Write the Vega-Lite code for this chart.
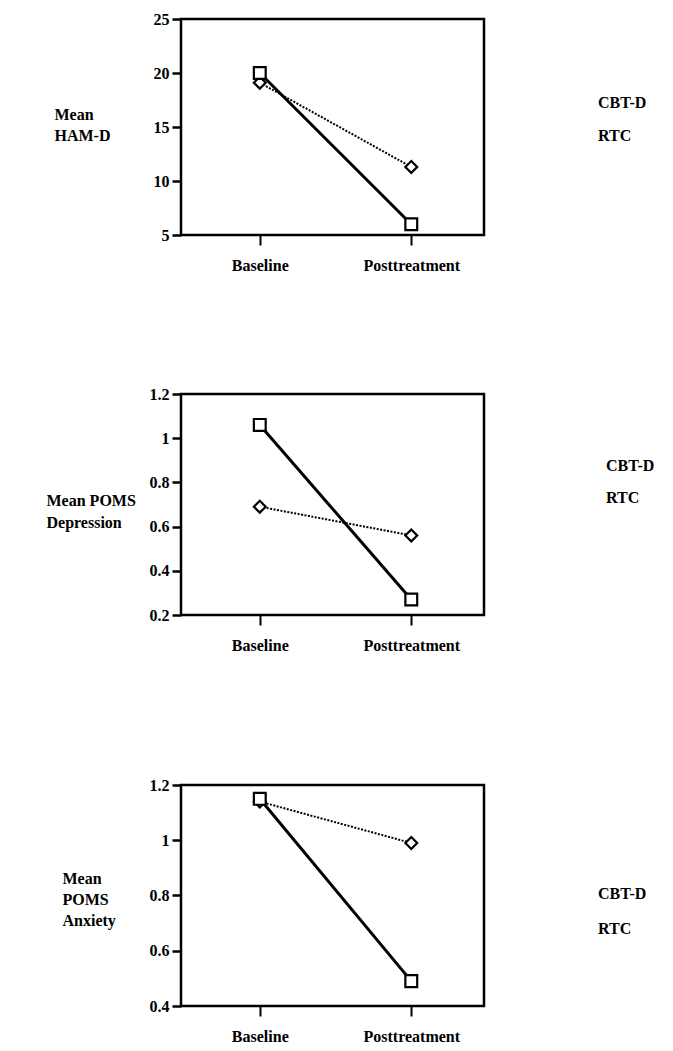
{
  "$schema": "https://vega.github.io/schema/vega-lite/v6.json",
  "background": "white",
  "padding": {"top": 9, "left": 44, "right": 5, "bottom": 5},
  "config": {
    "view": {"stroke": "black", "strokeWidth": 2.5},
    "font": "Liberation Serif",
    "axis": {"domain": false, "grid": false, "tickColor": "black", "labelColor": "black", "labelFont": "Liberation Serif", "labelFontWeight": "bold", "labelFontSize": 16, "titleFont": "Liberation Serif", "titleFontWeight": "bold", "titleFontSize": 16, "titleColor": "black"},
    "legend": {"labelFont": "Liberation Serif", "labelFontWeight": "bold", "labelFontSize": 16, "labelColor": "black", "padding": 0, "symbolStrokeWidth": 2.2, "symbolStrokeColor": "black", "symbolFillColor": "white"}
  },
  "datasets": {
    "hamd": [
      {"series": "RTC", "time": "Baseline", "value": 19.1},
      {"series": "RTC", "time": "Posttreatment", "value": 11.3},
      {"series": "CBT-D", "time": "Baseline", "value": 20.0},
      {"series": "CBT-D", "time": "Posttreatment", "value": 6.0}
    ],
    "pomsd": [
      {"series": "RTC", "time": "Baseline", "value": 0.69},
      {"series": "RTC", "time": "Posttreatment", "value": 0.56},
      {"series": "CBT-D", "time": "Baseline", "value": 1.06},
      {"series": "CBT-D", "time": "Posttreatment", "value": 0.27}
    ],
    "pomsa": [
      {"series": "RTC", "time": "Baseline", "value": 1.14},
      {"series": "RTC", "time": "Posttreatment", "value": 0.99},
      {"series": "CBT-D", "time": "Baseline", "value": 1.15},
      {"series": "CBT-D", "time": "Posttreatment", "value": 0.49}
    ]
  },
  "resolve": {"scale": {"x": "independent", "y": "independent", "shape": "independent"}, "legend": {"shape": "independent"}},
  "spacing": 109,
  "vconcat": [
    {
      "width": 303, "height": 216,
      "data": {"name": "hamd"},
      "encoding": {
        "x": {"field": "time", "type": "nominal", "sort": ["Baseline", "Posttreatment"], "scale": {"type": "point", "padding": 0.5, "align": 0.52}, "axis": {"title": null, "labelAngle": 0, "tickSize": 10, "tickWidth": 2, "labelPadding": 12}},
        "y": {"field": "value", "type": "quantitative", "scale": {"domain": [5, 25], "nice": false, "zero": false}, "axis": {"values": [5, 10, 15, 20, 25], "tickSize": 9, "tickWidth": 2.5, "labelPadding": 3, "title": ["Mean", "HAM-D"], "titleAngle": 0, "titleAlign": "left", "titleBaseline": "middle", "titleLineHeight": 21, "titleX": -127, "titleY": 95}}
      },
      "layer": [
        {"transform": [{"filter": "datum.series === 'RTC'"}], "mark": {"type": "line", "color": "black", "strokeWidth": 2, "strokeDash": [2, 1.5]}},
        {"transform": [{"filter": "datum.series === 'CBT-D'"}], "mark": {"type": "line", "color": "black", "strokeWidth": 3}},
        {
          "mark": {"type": "point", "filled": true, "fill": "white", "stroke": "black", "strokeWidth": 2.2, "opacity": 1, "size": 140},
          "encoding": {
            "shape": {"field": "series", "type": "nominal", "scale": {"domain": ["CBT-D", "RTC"], "range": ["square", "diamond"]},
              "legend": {"title": null, "orient": "none", "legendX": 351, "legendY": 74, "symbolSize": 306, "labelOffset": 46, "rowPadding": 4.5}}
          }
        }
      ]
    },
    {
      "resolve": {"scale": {"x": "independent", "y": "independent", "shape": "independent"}, "legend": {"shape": "independent"}},
      "bounds": "flush",
      "spacing": 170,
      "vconcat": [
        {
          "width": 303, "height": 221,
          "data": {"name": "pomsd"},
          "encoding": {
            "x": {"field": "time", "type": "nominal", "sort": ["Baseline", "Posttreatment"], "scale": {"type": "point", "padding": 0.5, "align": 0.52}, "axis": {"title": null, "labelAngle": 0, "tickSize": 10, "tickWidth": 2, "labelPadding": 12}},
            "y": {"field": "value", "type": "quantitative", "scale": {"domain": [0.2, 1.2], "nice": false, "zero": false}, "axis": {"values": [0.2, 0.4, 0.6, 0.8, 1, 1.2], "format": "~g", "tickSize": 9, "tickWidth": 2.5, "labelPadding": 3, "title": ["Mean POMS", "Depression"], "titleAngle": 0, "titleAlign": "left", "titleBaseline": "middle", "titleLineHeight": 22, "titleX": -135, "titleY": 106}}
          },
          "layer": [
            {"transform": [{"filter": "datum.series === 'RTC'"}], "mark": {"type": "line", "color": "black", "strokeWidth": 2, "strokeDash": [2, 1.5]}},
            {"transform": [{"filter": "datum.series === 'CBT-D'"}], "mark": {"type": "line", "color": "black", "strokeWidth": 3}},
            {
              "mark": {"type": "point", "filled": true, "fill": "white", "stroke": "black", "strokeWidth": 2.2, "opacity": 1, "size": 140},
              "encoding": {
                "shape": {"field": "series", "type": "nominal", "scale": {"domain": ["CBT-D", "RTC"], "range": ["square", "diamond"]},
                  "legend": {"title": null, "orient": "none", "legendX": 359, "legendY": 62, "symbolSize": 306, "labelOffset": 46, "rowPadding": 3.5}}
              }
            }
          ]
        },
        {
          "width": 303, "height": 221,
          "data": {"name": "pomsa"},
          "encoding": {
            "x": {"field": "time", "type": "nominal", "sort": ["Baseline", "Posttreatment"], "scale": {"type": "point", "padding": 0.5, "align": 0.52}, "axis": {"title": null, "labelAngle": 0, "tickSize": 10, "tickWidth": 2, "labelPadding": 12}},
            "y": {"field": "value", "type": "quantitative", "scale": {"domain": [0.4, 1.2], "nice": false, "zero": false}, "axis": {"values": [0.4, 0.6, 0.8, 1, 1.2], "format": "~g", "tickSize": 9, "tickWidth": 2.5, "labelPadding": 3, "title": ["Mean", "POMS", "Anxiety"], "titleAngle": 0, "titleAlign": "left", "titleBaseline": "middle", "titleLineHeight": 21, "titleX": -119, "titleY": 93}}
          },
          "layer": [
            {"transform": [{"filter": "datum.series === 'RTC'"}], "mark": {"type": "line", "color": "black", "strokeWidth": 2, "strokeDash": [2, 1.5]}},
            {"transform": [{"filter": "datum.series === 'CBT-D'"}], "mark": {"type": "line", "color": "black", "strokeWidth": 3}},
            {
              "mark": {"type": "point", "filled": true, "fill": "white", "stroke": "black", "strokeWidth": 2.2, "opacity": 1, "size": 140},
              "encoding": {
                "shape": {"field": "series", "type": "nominal", "scale": {"domain": ["CBT-D", "RTC"], "range": ["square", "diamond"]},
                  "legend": {"title": null, "orient": "none", "legendX": 351, "legendY": 99, "symbolSize": 306, "labelOffset": 46, "rowPadding": 6.5}}
              }
            }
          ]
        }
      ]
    }
  ]
}
